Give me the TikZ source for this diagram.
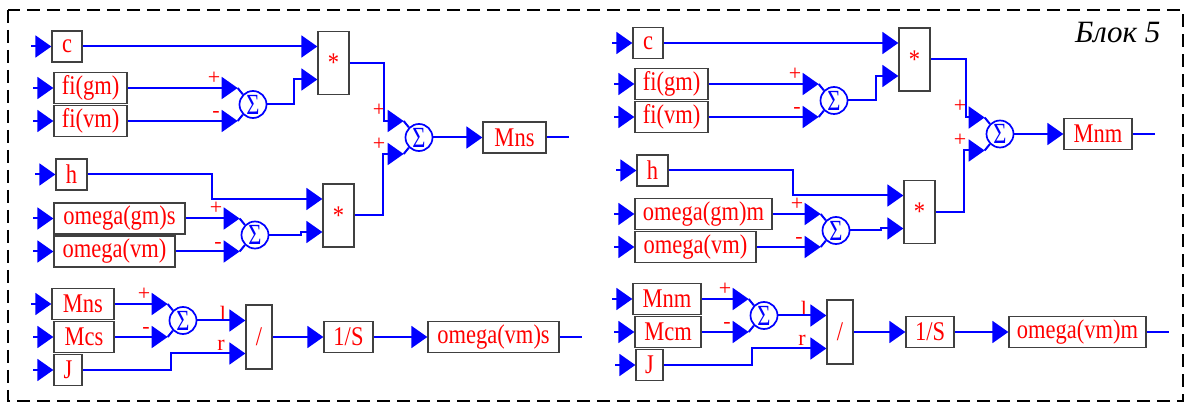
\documentclass[tikz,border=0pt]{standalone}
\usepackage{fontspec}
\setmainfont{Liberation Serif}
\usepackage{tikz}
\usetikzlibrary{arrows.meta,calc}
\newcommand{\tx}[1]{\scalebox{1}[1.2]{#1}}

\begin{document}
\begin{tikzpicture}[
    x=1pt, y=-1pt,
    font=\fontsize{22.5}{26}\selectfont,
    blk/.style={draw=black!75, line width=1.3pt, fill=white, inner sep=0pt,
        minimum width=#1, minimum height=31pt, text=red},
    mul/.style={blk=31pt, minimum height=63pt},
    divbox/.style={blk=26pt, minimum height=64pt},
    sig/.style={circle, draw=blue, line width=1.7pt, minimum size=27pt, inner sep=0pt,
        label={[blue]center:\scalebox{1}[1.3]{Σ}}},
    sgn/.style={text=red, font=\fontsize{22}{25}\selectfont, inner sep=0pt},
    wire/.style={blue, line width=2pt},
    arrow/.style={wire, -{Triangle[length=16pt, width=22pt]}},
    frame/.style={draw, line width=2pt, dash pattern=on 13pt off 7pt}
]
\useasboundingbox (0,0) rectangle (1187,403);
\draw[frame] (8,10) rectangle (1183,401);

% left block
\node[blk=30pt] (c1) at (67,46.5) {\tx{c}};
\node[blk=73pt] (fg1) at (90.5,88) {\tx{fi(gm)}};
\node[blk=73pt] (fv1) at (90.5,121) {\tx{fi(vm)}};
\node[sig] (s1) at (253,104.5) {};
\node[mul] (m1) at (333.5,63) {\tx{*}};
\node[blk=31pt] (h1) at (71.5,174.5) {\tx{h}};
\node[blk=131pt] (og1) at (119.5,218.5) {\tx{omega(gm)s}};
\node[blk=121pt] (ov1) at (114.5,251.5) {\tx{omega(vm)}};
\node[sig] (s2) at (255,235) {};
\node[mul] (m2) at (338.5,215.5) {\tx{*}};
\node[sig] (s3) at (419,137.5) {};
\node[blk=63pt] (mo1) at (514.5,137.5) {\tx{Mns}};
\node[blk=62pt] (mn1) at (83,304) {\tx{Mns}};
\node[blk=60pt] (mc1) at (84,337) {\tx{Mcs}};
\node[blk=28pt] (j1) at (68,370) {\tx{J}};
\node[sig] (s4) at (183,320.5) {};
\node[divbox] (dv1) at (259,337) {\tx{/}};
\node[blk=49pt] (is1) at (348.5,337) {\tx{1/S}};
\node[blk=131pt] (ow1) at (493.5,337) {\tx{omega(vm)s}};

% right block
\node[blk=30pt] (c2) at (648,43) {\tx{c}};
\node[blk=73pt] (fg2) at (671.5,84) {\tx{fi(gm)}};
\node[blk=73pt] (fv2) at (671.5,117) {\tx{fi(vm)}};
\node[sig] (s5) at (834,100.5) {};
\node[mul] (m3) at (914.5,59.5) {\tx{*}};
\node[blk=31pt] (h2) at (652.5,170.5) {\tx{h}};
\node[blk=137pt] (og2) at (703.5,214) {\tx{omega(gm)m}};
\node[blk=121pt] (ov2) at (695.5,247) {\tx{omega(vm)}};
\node[sig] (s6) at (836,230.5) {};
\node[mul] (m4) at (919.5,212) {\tx{*}};
\node[sig] (s7) at (1000,134) {};
\node[blk=68pt] (mo2) at (1098,134) {\tx{Mnm}};
\node[blk=68pt] (mn2) at (667,299) {\tx{Mnm}};
\node[blk=66pt] (mc2) at (668,332) {\tx{Mcm}};
\node[blk=27pt] (j2) at (649.5,365) {\tx{J}};
\node[sig] (s8) at (764,315.5) {};
\node[divbox] (dv2) at (840,332) {\tx{/}};
\node[blk=48pt] (is2) at (930,332) {\tx{1/S}};
\node[blk=137pt] (ow2) at (1077.5,332) {\tx{omega(vm)m}};

\node[anchor=base east, font=\fontsize{31}{36}\selectfont\itshape] (title) at (1164,43) {Блок 5};

\foreach \n in {c1,fg1,fv1,h1,og1,ov1,mn1,mc1,j1,c2,fg2,fv2,h2,og2,ov2,mn2,mc2,j2} {
    \coordinate (\n-in) at ($(\n.west)+(-20,0)$);
    \draw[arrow] (\n-in) -- (\n.west);
}
\foreach \n in {mo1,ow1,mo2,ow2} {
    \coordinate (\n-out) at ($(\n.east)+(22,0)$);
    \draw[wire] (\n.east) -- (\n-out);
}
\foreach \s in {s1,s2,s3,s4,s5,s6,s7,s8} {
    \coordinate (\s-a) at ($(\s.west)+(-1,-16.5)$);
    \coordinate (\s-b) at ($(\s.west)+(-1,16.5)$);
    \draw[wire] (\s-a) -- (\s.135);
    \draw[wire] (\s-b) -- (\s.225);
}
\foreach \s in {s1,s2,s4,s5,s6,s8} {
    \node[sgn] (\s-p) at ($(\s)+(-39,-26.5)$) {+};
    \node[sgn] (\s-m) at ($(\s)+(-37,10)$) {-};
}
\foreach \s in {s3,s7} {
    \node[sgn] (\s-p) at ($(\s)+(-40,-27.5)$) {+};
    \node[sgn] (\s-q) at ($(\s)+(-40,6.5)$) {+};
}
\foreach \d in {dv1,dv2} {
    \node[sgn] (\d-l) at ($(\d)+(-36,-23)$) {l};
    \node[sgn] (\d-r) at ($(\d)+(-38,8.5)$) {r};
}

\draw[arrow] (c1.east) -- ($(m1.west)+(0,-16.5)$);
\draw[arrow] (fg1.east) -- (s1-a);
\draw[arrow] (fv1.east) -- (s1-b);
\draw[arrow] (s1.east) -- ++(27,0) |- ($(m1.west)+(0,16.5)$);
\draw[arrow] (m1.east) -- ++(34,0) |- (s3-a);
\draw[arrow] (h1.east) -- ++(124,0) |- ($(m2.west)+(0,-16.5)$);
\draw[arrow] (og1.east) -- (s2-a);
\draw[arrow] (ov1.east) -- (s2-b);
\draw[arrow] (s2.east) -- ++(32,0) |- ($(m2.west)+(0,16.5)$);
\draw[arrow] (m2.east) -- ++(28,0) |- (s3-b);
\draw[arrow] (s3.east) -- (mo1.west);
\draw[arrow] (mn1.east) -- (s4-a);
\draw[arrow] (mc1.east) -- (s4-b);
\draw[arrow] (s4.east) -- ($(dv1.west)+(0,-16.5)$);
\draw[arrow] (j1.east) -- ++(88,0) |- ($(dv1.west)+(0,16.5)$);
\draw[arrow] (dv1.east) -- (is1.west);
\draw[arrow] (is1.east) -- (ow1.west);

\draw[arrow] (c2.east) -- ($(m3.west)+(0,-16.5)$);
\draw[arrow] (fg2.east) -- (s5-a);
\draw[arrow] (fv2.east) -- (s5-b);
\draw[arrow] (s5.east) -- ++(28,0) |- ($(m3.west)+(0,16.5)$);
\draw[arrow] (m3.east) -- ++(35,0) |- (s7-a);
\draw[arrow] (h2.east) -- ++(124,0) |- ($(m4.west)+(0,-16.5)$);
\draw[arrow] (og2.east) -- (s6-a);
\draw[arrow] (ov2.east) -- (s6-b);
\draw[arrow] (s6.east) -- ++(31,0) |- ($(m4.west)+(0,16.5)$);
\draw[arrow] (m4.east) -- ++(28,0) |- (s7-b);
\draw[arrow] (s7.east) -- (mo2.west);
\draw[arrow] (mn2.east) -- (s8-a);
\draw[arrow] (mc2.east) -- (s8-b);
\draw[arrow] (s8.east) -- ($(dv2.west)+(0,-16.5)$);
\draw[arrow] (j2.east) -- ++(88,0) |- ($(dv2.west)+(0,16.5)$);
\draw[arrow] (dv2.east) -- (is2.west);
\draw[arrow] (is2.east) -- (ow2.west);

\end{tikzpicture}
\end{document}
